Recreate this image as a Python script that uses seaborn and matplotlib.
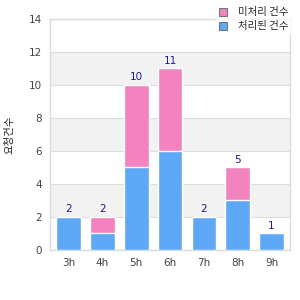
import pandas as pd
import numpy as np
import matplotlib.pyplot as plt
import seaborn as sns
from matplotlib.patches import Patch

# data
hours = ['3h', '4h', '5h', '6h', '7h', '8h', '9h']
done = [2, 1, 5, 6, 2, 3, 1]
pending = [0, 1, 5, 5, 0, 2, 0]
legend_labels = ['미처리 건수', '처리된 건수']
ylabel = '요청건수'

df = pd.DataFrame({'hour': hours, 'done': done, 'pending': pending})
df['total'] = df['done'] + df['pending']

sns.set_style('white')
plt.rcParams['font.family'] = ['Noto Sans CJK KR', 'DejaVu Sans']

blue = '#5fa8f5'
pink = '#f283bf'
grid_c = '#dcdcdc'

fig = plt.figure(figsize=(3, 3), dpi=100)
ax = fig.add_axes([0.167, 0.167, 0.8, 0.77])

# alternating bands
for lo in [2, 6, 10]:
    ax.axhspan(lo, lo + 2, color='#f2f2f2', zorder=0, lw=0)

sns.barplot(data=df, x='hour', y='total', color=pink, width=0.73,
            saturation=1, ax=ax, zorder=2)
sns.barplot(data=df, x='hour', y='done', color=blue, width=0.73,
            saturation=1, ax=ax, zorder=3)

for i, t in enumerate(df['total']):
    ax.text(i, t + 0.15, str(t), ha='center', va='bottom',
            fontsize=7.5, color='#1a1a8c', family='DejaVu Sans', zorder=4)

ax.set_ylim(0, 14)
ax.set_yticks(range(0, 15, 2))
ax.set_xlim(-0.55, 6.55)
ax.yaxis.grid(True, color=grid_c, lw=0.8, zorder=1)
ax.set_axisbelow(True)
ax.set_xlabel('')
ax.set_ylabel(ylabel, fontsize=7.5, color='#222222', labelpad=10)
ax.tick_params(axis='both', labelsize=7.5, colors='#444444', length=0, pad=6)
for lab in ax.get_xticklabels() + ax.get_yticklabels():
    lab.set_family('DejaVu Sans')
for s in ax.spines.values():
    s.set_color(grid_c)
    s.set_linewidth(1)

handles = [Patch(facecolor=pink, edgecolor='#777777', lw=0.8),
           Patch(facecolor=blue, edgecolor='#777777', lw=0.8)]
leg = fig.legend(handles, legend_labels, loc='upper right',
                 bbox_to_anchor=(0.985, 1.0), frameon=True, fontsize=7.5,
                 handlelength=0.8, handleheight=0.8, handletextpad=1.0,
                 labelspacing=0.4, borderpad=0.2)
leg.get_frame().set_facecolor('white')
leg.get_frame().set_edgecolor('white')

fig.savefig('out.png', dpi=100)
